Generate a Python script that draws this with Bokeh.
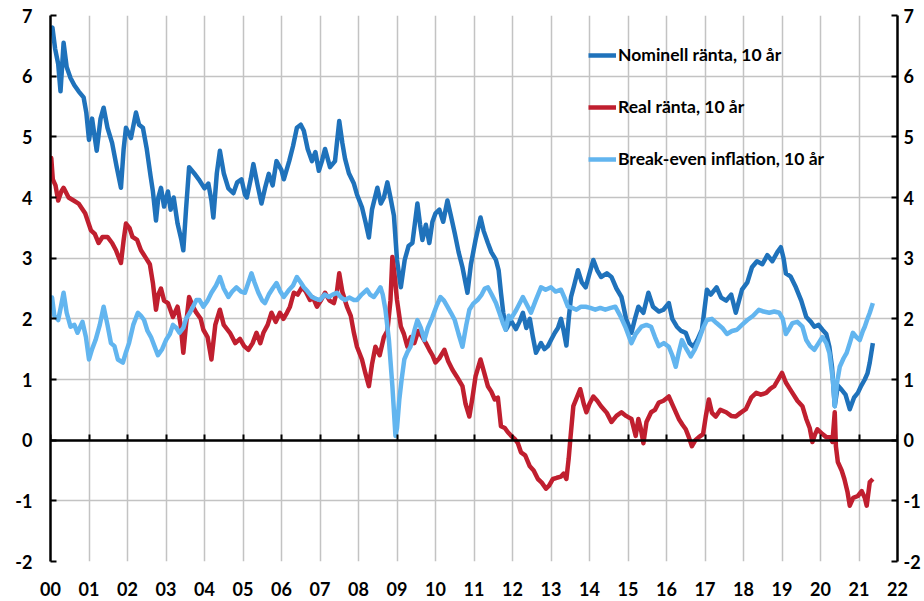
from bokeh.plotting import figure
from bokeh.models import LinearAxis, FixedTicker, Legend, LegendItem, Range1d
from bokeh.embed import file_html
from bokeh.resources import INLINE

# ---------------- data ----------------
years = list(range(2000, 2023))
year_labels = ["00", "01", "02", "03", "04", "05", "06", "07", "08", "09", "10",
               "11", "12", "13", "14", "15", "16", "17", "18", "19", "20", "21", "22"]
y_ticks = [-2, -1, 0, 1, 2, 3, 4, 5, 6, 7]
y_labels = ["-2", "-1", "0", "1", "2", "3", "4", "5", "6", "7"]

series_names = ["Nominell ränta, 10 år", "Real ränta, 10 år", "Break-even inflation, 10 år"]

nom_t = [2000.00, 2000.05, 2000.12, 2000.20, 2000.26, 2000.34, 2000.42, 2000.52, 2000.62, 2000.73,
         2000.86, 2000.93, 2001.00, 2001.08, 2001.20, 2001.30, 2001.38, 2001.48, 2001.60, 2001.72,
         2001.83, 2001.90, 2001.96, 2002.09, 2002.22, 2002.30, 2002.40, 2002.50, 2002.60, 2002.66,
         2002.74, 2002.80, 2002.87, 2002.95, 2003.05, 2003.12, 2003.20, 2003.30, 2003.40, 2003.45,
         2003.52, 2003.60, 2003.73, 2003.85, 2004.00, 2004.10, 2004.18, 2004.23, 2004.32, 2004.40,
         2004.50, 2004.62, 2004.75, 2004.85, 2004.96, 2005.05, 2005.10, 2005.20, 2005.27, 2005.38,
         2005.48, 2005.57, 2005.67, 2005.77, 2005.87, 2006.00, 2006.06, 2006.20, 2006.30, 2006.40,
         2006.50, 2006.58, 2006.68, 2006.79, 2006.88, 2006.97, 2007.05, 2007.13, 2007.26, 2007.39,
         2007.50, 2007.58, 2007.65, 2007.75, 2007.88, 2007.96, 2008.09, 2008.18, 2008.27, 2008.35,
         2008.49, 2008.58, 2008.66, 2008.75, 2008.83, 2008.92, 2009.00, 2009.10, 2009.20, 2009.30,
         2009.40, 2009.47, 2009.53, 2009.60, 2009.66, 2009.75, 2009.84, 2009.92, 2010.00, 2010.10,
         2010.20, 2010.31, 2010.40, 2010.50, 2010.60, 2010.70, 2010.83, 2010.92, 2011.04, 2011.17,
         2011.25, 2011.36, 2011.45, 2011.57, 2011.64, 2011.70, 2011.76, 2011.83, 2011.96, 2012.09,
         2012.18, 2012.27, 2012.36, 2012.45, 2012.53, 2012.61, 2012.74, 2012.83, 2012.92, 2013.00,
         2013.10, 2013.18, 2013.26, 2013.33, 2013.40, 2013.46, 2013.52, 2013.60, 2013.70, 2013.80,
         2013.90, 2014.00, 2014.10, 2014.20, 2014.30, 2014.45, 2014.57, 2014.70, 2014.83, 2014.95,
         2015.09, 2015.18, 2015.27, 2015.40, 2015.53, 2015.65, 2015.80, 2015.92, 2016.06, 2016.15,
         2016.27, 2016.38, 2016.50, 2016.60, 2016.70, 2016.80, 2016.92, 2017.05, 2017.15, 2017.30,
         2017.42, 2017.55, 2017.68, 2017.80, 2017.96, 2018.10, 2018.22, 2018.35, 2018.49, 2018.62,
         2018.75, 2018.88, 2018.97, 2019.04, 2019.10, 2019.22, 2019.36, 2019.50, 2019.63, 2019.75,
         2019.84, 2019.95, 2020.05, 2020.15, 2020.23, 2020.30, 2020.37, 2020.45, 2020.55, 2020.65,
         2020.76, 2020.87, 2020.97, 2021.06, 2021.15, 2021.22, 2021.28, 2021.36]
nom_v = [6.70, 6.80, 6.45, 6.20, 5.75, 6.55, 6.15, 5.97, 5.85, 5.75,
         5.65, 5.40, 4.95, 5.30, 4.77, 5.30, 5.48, 5.15, 4.90, 4.50,
         4.16, 4.80, 5.15, 4.98, 5.40, 5.20, 5.15, 4.80, 4.35, 4.10,
         3.62, 4.00, 4.16, 3.85, 4.10, 3.80, 4.00, 3.57, 3.30, 3.13,
         3.80, 4.50, 4.40, 4.30, 4.15, 4.23, 3.95, 3.67, 4.40, 4.77,
         4.40, 4.15, 4.07, 4.25, 4.30, 4.05, 4.00, 4.30, 4.55, 4.20,
         3.90, 4.15, 4.39, 4.20, 4.60, 4.45, 4.30, 4.60, 4.85, 5.15,
         5.20, 5.10, 4.80, 4.60, 4.75, 4.44, 4.60, 4.80, 4.50, 4.60,
         5.26, 4.90, 4.64, 4.40, 4.23, 4.05, 3.84, 3.60, 3.34, 3.80,
         4.16, 3.90, 4.00, 4.25, 4.00, 3.70, 2.97, 2.52, 2.97, 3.20,
         3.25, 3.60, 3.90, 3.55, 3.30, 3.55, 3.25, 3.60, 3.74, 3.80,
         3.60, 3.95, 3.70, 3.41, 3.10, 2.85, 2.43, 2.90, 3.30, 3.67,
         3.45, 3.25, 3.10, 2.97, 2.80, 2.43, 2.10, 1.82, 1.97, 1.83,
         1.95, 2.10, 1.85, 2.00, 1.70, 1.44, 1.60, 1.50, 1.55, 1.65,
         1.77, 1.85, 2.00, 1.80, 1.56, 2.00, 2.36, 2.55, 2.80, 2.60,
         2.52, 2.75, 2.97, 2.80, 2.69, 2.75, 2.69, 2.50, 2.36, 2.00,
         1.77, 2.00, 2.20, 2.10, 2.43, 2.20, 2.12, 2.15, 2.26, 2.00,
         1.87, 1.80, 1.77, 1.60, 1.54, 1.65, 1.82, 2.48, 2.40, 2.52,
         2.35, 2.30, 2.40, 2.10, 2.48, 2.60, 2.85, 2.95, 2.90, 3.05,
         2.95, 3.10, 3.18, 3.00, 2.75, 2.70, 2.52, 2.30, 2.03, 1.95,
         1.87, 1.90, 1.82, 1.75, 1.54, 1.20, 0.56, 0.90, 0.83, 0.75,
         0.51, 0.70, 0.78, 0.90, 1.00, 1.10, 1.28, 1.60]

real_t = [2000.00, 2000.02, 2000.06, 2000.13, 2000.20, 2000.28, 2000.34, 2000.47, 2000.60, 2000.73,
          2000.90, 2001.05, 2001.15, 2001.25, 2001.35, 2001.48, 2001.60, 2001.70, 2001.83, 2001.90,
          2001.96, 2002.05, 2002.13, 2002.25, 2002.35, 2002.48, 2002.58, 2002.66, 2002.74, 2002.80,
          2002.87, 2002.95, 2003.05, 2003.18, 2003.30, 2003.38, 2003.45, 2003.52, 2003.60, 2003.70,
          2003.79, 2003.90, 2003.97, 2004.08, 2004.18, 2004.28, 2004.40, 2004.50, 2004.66, 2004.80,
          2004.92, 2005.03, 2005.14, 2005.25, 2005.35, 2005.45, 2005.53, 2005.64, 2005.74, 2005.85,
          2005.96, 2006.05, 2006.14, 2006.22, 2006.32, 2006.42, 2006.53, 2006.63, 2006.74, 2006.82,
          2006.92, 2007.02, 2007.13, 2007.25, 2007.36, 2007.44, 2007.50, 2007.58, 2007.70, 2007.80,
          2007.88, 2007.96, 2008.09, 2008.18, 2008.27, 2008.35, 2008.44, 2008.55, 2008.66, 2008.75,
          2008.83, 2008.88, 2008.94, 2009.00, 2009.10, 2009.18, 2009.27, 2009.36, 2009.45, 2009.55,
          2009.66, 2009.75, 2009.84, 2009.92, 2010.00, 2010.10, 2010.23, 2010.33, 2010.44, 2010.55,
          2010.70, 2010.78, 2010.88, 2010.96, 2011.04, 2011.17, 2011.27, 2011.36, 2011.45, 2011.54,
          2011.62, 2011.70, 2011.80, 2011.88, 2012.00, 2012.06, 2012.14, 2012.22, 2012.33, 2012.45,
          2012.55, 2012.66, 2012.76, 2012.87, 2012.95, 2013.05, 2013.15, 2013.26, 2013.33, 2013.40,
          2013.46, 2013.50, 2013.58, 2013.67, 2013.76, 2013.85, 2013.92, 2014.00, 2014.10, 2014.20,
          2014.30, 2014.45, 2014.57, 2014.70, 2014.83, 2014.95, 2015.09, 2015.20, 2015.27, 2015.33,
          2015.40, 2015.48, 2015.60, 2015.70, 2015.80, 2015.92, 2016.06, 2016.18, 2016.32, 2016.42,
          2016.50, 2016.58, 2016.66, 2016.75, 2016.84, 2016.95, 2017.02, 2017.10, 2017.18, 2017.28,
          2017.40, 2017.55, 2017.68, 2017.80, 2017.92, 2018.06, 2018.20, 2018.33, 2018.45, 2018.59,
          2018.70, 2018.80, 2018.90, 2019.00, 2019.10, 2019.20, 2019.27, 2019.40, 2019.53, 2019.63,
          2019.72, 2019.79, 2019.86, 2019.92, 2020.05, 2020.15, 2020.25, 2020.31, 2020.37, 2020.40,
          2020.45, 2020.55, 2020.62, 2020.70, 2020.76, 2020.85, 2020.97, 2021.07, 2021.15, 2021.20,
          2021.28, 2021.36]
real_v = [4.40, 4.65, 4.30, 4.20, 3.95, 4.10, 4.16, 4.00, 3.95, 3.90,
          3.74, 3.46, 3.40, 3.25, 3.35, 3.35, 3.25, 3.13, 2.92, 3.30,
          3.57, 3.50, 3.35, 3.30, 3.13, 3.00, 2.90, 2.59, 2.15, 2.40,
          2.50, 2.30, 2.26, 2.03, 2.20, 1.90, 1.44, 1.90, 2.36, 2.20,
          2.10, 2.00, 1.82, 1.70, 1.33, 1.90, 2.15, 1.90, 1.77, 1.60,
          1.67, 1.55, 1.49, 1.60, 1.77, 1.60, 1.77, 1.90, 2.10, 1.95,
          2.10, 2.00, 2.10, 2.20, 2.43, 2.40, 2.52, 2.45, 2.31, 2.35,
          2.20, 2.30, 2.43, 2.30, 2.26, 2.45, 2.75, 2.45, 2.20, 2.05,
          1.77, 1.54, 1.33, 1.10, 0.89, 1.25, 1.54, 1.40, 1.70, 1.80,
          2.30, 3.02, 2.70, 2.31, 1.87, 1.75, 1.54, 1.70, 1.60, 1.80,
          1.70, 1.60, 1.49, 1.40, 1.28, 1.35, 1.49, 1.30, 1.16, 1.05,
          0.89, 0.60, 0.39, 0.70, 1.05, 1.33, 1.10, 0.89, 0.80, 0.67,
          0.70, 0.23, 0.20, 0.13, 0.05, 0.02, -0.05, -0.20, -0.25, -0.43,
          -0.50, -0.64, -0.70, -0.80, -0.75, -0.64, -0.62, -0.60, -0.55, -0.64,
          -0.30, 0.00, 0.56, 0.70, 0.84, 0.60, 0.46, 0.60, 0.72, 0.65,
          0.56, 0.45, 0.30, 0.40, 0.46, 0.40, 0.35, 0.07, 0.35, 0.20,
          -0.05, 0.30, 0.46, 0.50, 0.62, 0.65, 0.72, 0.55, 0.35, 0.25,
          0.18, 0.05, -0.10, 0.00, 0.05, 0.10, 0.39, 0.67, 0.45, 0.39,
          0.50, 0.46, 0.40, 0.39, 0.45, 0.51, 0.70, 0.78, 0.75, 0.78,
          0.85, 0.89, 1.00, 1.11, 0.95, 0.85, 0.78, 0.65, 0.56, 0.35,
          0.20, -0.03, 0.10, 0.18, 0.10, 0.05, 0.05, -0.03, 0.46, -0.10,
          -0.36, -0.50, -0.64, -0.85, -1.08, -0.95, -0.92, -0.84, -0.95, -1.08,
          -0.69, -0.64]

be_t = [2000.00, 2000.04, 2000.10, 2000.20, 2000.27, 2000.34, 2000.42, 2000.52, 2000.62, 2000.70,
        2000.83, 2000.92, 2001.00, 2001.08, 2001.17, 2001.28, 2001.38, 2001.48, 2001.57, 2001.66,
        2001.75, 2001.88, 2001.96, 2002.04, 2002.15, 2002.27, 2002.35, 2002.43, 2002.52, 2002.61,
        2002.70, 2002.79, 2002.90, 2003.00, 2003.10, 2003.18, 2003.27, 2003.35, 2003.45, 2003.52,
        2003.62, 2003.70, 2003.79, 2003.87, 2003.97, 2004.08, 2004.18, 2004.30, 2004.40, 2004.50,
        2004.62, 2004.72, 2004.83, 2004.95, 2005.05, 2005.14, 2005.22, 2005.30, 2005.40, 2005.50,
        2005.57, 2005.67, 2005.77, 2005.87, 2005.97, 2006.06, 2006.20, 2006.30, 2006.40, 2006.50,
        2006.58, 2006.68, 2006.79, 2006.90, 2007.00, 2007.12, 2007.23, 2007.33, 2007.44, 2007.55,
        2007.65, 2007.76, 2007.88, 2007.96, 2008.08, 2008.22, 2008.30, 2008.40, 2008.50, 2008.57,
        2008.63, 2008.70, 2008.79, 2008.88, 2008.96, 2009.00, 2009.06, 2009.12, 2009.19, 2009.27,
        2009.35, 2009.45, 2009.53, 2009.62, 2009.71, 2009.80, 2009.92, 2010.02, 2010.13, 2010.22,
        2010.31, 2010.40, 2010.50, 2010.60, 2010.70, 2010.80, 2010.88, 2010.98, 2011.09, 2011.20,
        2011.28, 2011.36, 2011.46, 2011.57, 2011.66, 2011.75, 2011.82, 2011.90, 2011.96, 2012.10,
        2012.27, 2012.36, 2012.48, 2012.60, 2012.74, 2012.86, 2013.00, 2013.12, 2013.26, 2013.35,
        2013.44, 2013.55, 2013.66, 2013.78, 2013.90, 2014.02, 2014.15, 2014.28, 2014.41, 2014.55,
        2014.67, 2014.80, 2014.93, 2015.09, 2015.20, 2015.35, 2015.48, 2015.60, 2015.70, 2015.80,
        2015.93, 2016.06, 2016.15, 2016.24, 2016.32, 2016.40, 2016.52, 2016.63, 2016.74, 2016.84,
        2016.95, 2017.05, 2017.18, 2017.30, 2017.45, 2017.57, 2017.70, 2017.83, 2017.96, 2018.10,
        2018.25, 2018.40, 2018.52, 2018.67, 2018.80, 2018.93, 2019.02, 2019.10, 2019.20, 2019.27,
        2019.40, 2019.53, 2019.63, 2019.73, 2019.84, 2019.95, 2020.05, 2020.15, 2020.23, 2020.32,
        2020.37, 2020.43, 2020.50, 2020.60, 2020.68, 2020.76, 2020.84, 2020.93, 2021.02, 2021.10,
        2021.15, 2021.22, 2021.28, 2021.36]
be_v = [2.15, 2.35, 2.05, 1.98, 2.20, 2.43, 2.10, 1.87, 1.90, 1.77,
        1.95, 1.70, 1.33, 1.50, 1.65, 1.90, 2.20, 1.90, 1.60, 1.55,
        1.33, 1.28, 1.45, 1.60, 1.90, 2.10, 2.05, 1.98, 1.80, 1.70,
        1.55, 1.40, 1.50, 1.65, 1.75, 1.90, 1.85, 1.77, 1.85, 2.00,
        2.10, 2.20, 2.31, 2.31, 2.20, 2.30, 2.43, 2.55, 2.69, 2.50,
        2.36, 2.45, 2.52, 2.45, 2.43, 2.60, 2.75, 2.60, 2.43, 2.30,
        2.26, 2.40, 2.50, 2.59, 2.45, 2.36, 2.48, 2.55, 2.69, 2.60,
        2.52, 2.45, 2.36, 2.33, 2.31, 2.40, 2.36, 2.40, 2.43, 2.35,
        2.31, 2.35, 2.31, 2.31, 2.40, 2.48, 2.40, 2.36, 2.45, 2.52,
        2.40, 2.15, 1.65, 0.89, 0.07, 0.20, 0.67, 1.00, 1.33, 1.45,
        1.54, 1.80, 1.98, 1.85, 1.65, 1.85, 2.03, 2.20, 2.36, 2.30,
        2.20, 2.10, 1.98, 1.75, 1.54, 1.90, 2.15, 2.25, 2.31, 2.40,
        2.50, 2.52, 2.40, 2.26, 2.10, 1.93, 1.82, 2.05, 2.00, 2.15,
        2.36, 2.25, 2.10, 2.30, 2.52, 2.48, 2.52, 2.45, 2.48, 2.35,
        2.20, 2.18, 2.15, 2.20, 2.20, 2.18, 2.15, 2.18, 2.15, 2.18,
        2.20, 2.05, 1.87, 1.60, 1.75, 1.87, 1.90, 1.87, 1.70, 1.55,
        1.60, 1.54, 1.40, 1.21, 1.45, 1.65, 1.50, 1.38, 1.50, 1.65,
        1.85, 1.98, 2.00, 1.93, 1.85, 1.75, 1.80, 1.82, 1.90, 1.98,
        2.05, 2.15, 2.12, 2.10, 2.12, 2.10, 2.00, 1.75, 1.85, 1.93,
        1.95, 1.87, 1.65, 1.55, 1.49, 1.60, 1.70, 1.60, 1.44, 1.00,
        0.56, 0.95, 1.21, 1.35, 1.44, 1.60, 1.77, 1.70, 1.65, 1.80,
        1.87, 2.00, 2.10, 2.26]

# ---------------- styling ----------------
FONT = "Lato"
colors = ["#1f72bb", "#c01f2f", "#62b5ef"]
grid_color = "#c3c3c3"

W, H = 924, 598
p = figure(width=W, height=H,
           x_range=Range1d(2000, 2022), y_range=Range1d(-2, 7),
           output_backend="svg", toolbar_location=None,
           min_border_left=50, min_border_right=W - 897,
           min_border_top=15, min_border_bottom=H - 563)
p.outline_line_color = None
p.background_fill_color = "white"
p.border_fill_color = "white"

# grid
p.xgrid.ticker = FixedTicker(ticks=years)
p.ygrid.ticker = FixedTicker(ticks=y_ticks)
for g in (p.xgrid, p.ygrid):
    g.grid_line_color = grid_color
    g.grid_line_width = 1.5

# bottom axis: labels only
xa = p.xaxis[0]
xa.ticker = FixedTicker(ticks=years)
xa.major_label_overrides = {y: l for y, l in zip(years, year_labels)}
xa.axis_line_color = None
xa.major_tick_line_color = None
xa.minor_tick_line_color = None
xa.major_label_standoff = 14
xa.major_label_text_font = FONT
xa.major_label_text_font_style = "bold"
xa.major_label_text_font_size = "18px"
xa.major_label_text_color = "black"

y_over = {t: l for t, l in zip(y_ticks, y_labels)}

# left axis
ya = p.yaxis[0]
ya.ticker = FixedTicker(ticks=y_ticks)
ya.major_label_overrides = y_over
ya.axis_line_color = "black"
ya.axis_line_width = 2.5
ya.major_tick_in = 6
ya.major_tick_out = 0
ya.major_tick_line_width = 2
ya.minor_tick_line_color = None
ya.major_label_standoff = 18
ya.major_label_text_font = FONT
ya.major_label_text_font_style = "bold"
ya.major_label_text_font_size = "18px"
ya.major_label_text_color = "black"

# right axis
ra = LinearAxis(ticker=FixedTicker(ticks=y_ticks))
ra.major_label_overrides = y_over
ra.axis_line_color = "black"
ra.axis_line_width = 2.5
ra.major_tick_in = 6
ra.major_tick_out = 0
ra.major_tick_line_width = 2
ra.minor_tick_line_color = None
ra.major_label_standoff = 6
ra.major_label_text_font = FONT
ra.major_label_text_font_style = "bold"
ra.major_label_text_font_size = "18px"
ra.major_label_text_color = "black"
p.add_layout(ra, "right")

# zero line axis (crossing at 0, ticks only)
za = LinearAxis(ticker=FixedTicker(ticks=years), fixed_location=0)
za.axis_line_color = "black"
za.axis_line_width = 2.5
za.major_tick_in = 6
za.major_tick_out = 0
za.major_tick_line_width = 2
za.minor_tick_line_color = None
za.major_label_text_color = None
za.major_label_text_font_size = "0px"
za.major_label_standoff = 0
p.add_layout(za, "below")

# series
r_nom = p.line(nom_t, nom_v, line_color=colors[0], line_width=4.5, line_join="round")
r_real = p.line(real_t, real_v, line_color=colors[1], line_width=4.5, line_join="round")
r_be = p.line(be_t, be_v, line_color=colors[2], line_width=4.5, line_join="round")

legend = Legend(items=[LegendItem(label=series_names[0], renderers=[r_nom]),
                       LegendItem(label=series_names[1], renderers=[r_real]),
                       LegendItem(label=series_names[2], renderers=[r_be])],
                location=(538, 392))
legend.background_fill_alpha = 0
legend.border_line_color = None
legend.padding = 0
legend.margin = 0
legend.spacing = 31
legend.glyph_width = 28
legend.glyph_height = 20
legend.label_height = 20
legend.label_standoff = 2
legend.label_text_font = FONT
legend.label_text_font_style = "bold"
legend.label_text_font_size = "17.5px"
legend.label_text_color = "black"
p.add_layout(legend, "center")

open("out.html", "w").write(file_html(p, INLINE))
